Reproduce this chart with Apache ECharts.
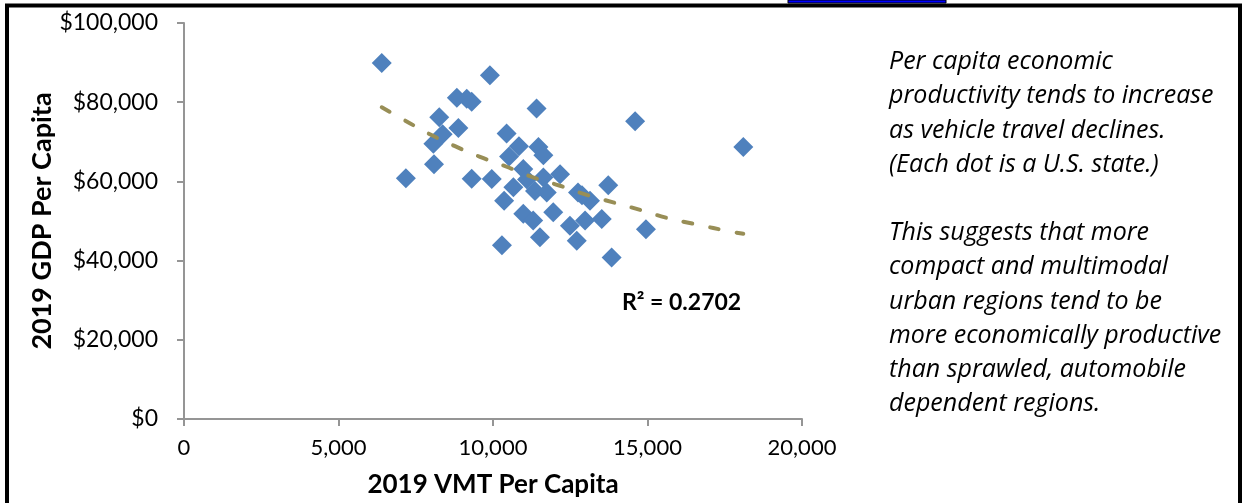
<!DOCTYPE html>
<html>
<head>
<meta charset="utf-8">
<script src="https://cdn.jsdelivr.net/npm/echarts@6/dist/echarts.min.js"></script>
<style>
  html, body { margin: 0; padding: 0; background: #fff; }
  #chart { width: 1243px; height: 503px; }
</style>
</head>
<body>
<div id="chart"></div>
<script>
// 2019 VMT per capita vs 2019 GDP per capita, one dot per state
const vmt = [
  6400, 9900, 8830, 9150, 9310, 11410, 14600, 8260, 8880, 8370,
  8070, 8090, 7180, 9310, 9960, 10440, 10840, 11470, 10520, 11630,
  10980, 11630, 12170, 10660, 11360, 11740, 10360, 12750, 13140, 13730,
  11950, 10980, 11300, 12490, 12980, 13520, 11520, 12710, 10290, 13840,
  14950, 18100, 12880, 11100
];
const gdp = [
  89900, 86800, 81100, 80900, 80100, 78400, 75200, 76200, 73500, 71900,
  69500, 64300, 60800, 60700, 60600, 72100, 68900, 68700, 66300, 66600,
  63100, 61000, 61800, 58500, 57600, 57200, 55100, 57200, 55100, 59000,
  52200, 51800, 50100, 48800, 50100, 50500, 45900, 45000, 43900, 40800,
  47900, 68700, 56500, 60500
];

// trendline
const trendVmt = [6400, 7150, 7960, 8770, 9580, 10440, 11300, 12170, 13030, 13890, 14760, 15620, 16480, 17780, 18100];
const trendGdp = [78700, 75400, 71900, 68900, 66200, 63700, 61000, 58900, 56600, 54700, 52800, 50800, 49300, 47200, 46800];

const rSquared = "R² = 0.2702";
const note = [
  "Per capita economic",
  "productivity tends to increase",
  "as vehicle travel declines.",
  "(Each dot is a U.S. state.)",
  "",
  "This suggests that more",
  "compact and multimodal",
  "urban regions tend to be",
  "more economically productive",
  "than sprawled, automobile",
  "dependent regions."
];

const font = "Lato, 'Open Sans', sans-serif";
const axisGray = "#959595";

const chart = echarts.init(document.getElementById("chart"));

chart.setOption({
  backgroundColor: "#fff",
  animation: false,
  grid: { left: 184, right: 441, top: 23, bottom: 82 },
  xAxis: {
    type: "value",
    min: 0, max: 20000, interval: 5000,
    name: "2019 VMT Per Capita",
    nameLocation: "middle",
    nameGap: 53,
    nameTextStyle: { fontFamily: font, fontSize: 26, fontWeight: "bold", color: "#000" },
    axisLine: { show: true, onZero: false, lineStyle: { color: axisGray, width: 2 } },
    axisTick: { show: true, length: 7, lineStyle: { color: axisGray, width: 2 } },
    axisLabel: {
      margin: 18, fontFamily: font, fontSize: 22, color: "#000",
      formatter: (v) => v.toLocaleString("en-US")
    },
    splitLine: { show: false }
  },
  yAxis: {
    type: "value",
    min: 0, max: 100000, interval: 20000,
    name: "2019 GDP Per Capita",
    nameLocation: "middle",
    nameGap: 126,
    nameTextStyle: { fontFamily: font, fontSize: 27, fontWeight: "bold", color: "#000" },
    axisLine: { show: true, onZero: false, lineStyle: { color: axisGray, width: 2 } },
    axisTick: { show: true, length: 7, lineStyle: { color: axisGray, width: 2 } },
    axisLabel: {
      margin: 26, fontFamily: font, fontSize: 23, color: "#000",
      formatter: (v) => "$" + v.toLocaleString("en-US")
    },
    splitLine: { show: false }
  },
  series: [
    {
      name: "States",
      type: "scatter",
      symbol: "diamond",
      symbolSize: 20,
      itemStyle: { color: "#4F81BD", opacity: 1 },
      data: vmt.map((x, i) => [x, gdp[i]]),
      z: 2
    },
    {
      name: "Trend",
      type: "line",
      smooth: true,
      showSymbol: false,
      lineStyle: { color: "#988E56", width: 4, type: [9, 18], cap: "round" },
      data: trendVmt.map((x, i) => [x, trendGdp[i]]),
      z: 3
    }
  ],
  graphic: [
    {
      type: "rect",
      shape: { x: 7, y: 5.5, width: 1233, height: 600 },
      style: { fill: "none", stroke: "#000", lineWidth: 4 },
      silent: true
    },
    {
      type: "rect",
      shape: { x: 788, y: 0, width: 158, height: 3 },
      style: { fill: "#0000ff", stroke: "#000", lineWidth: 1 },
      silent: true
    },
    {
      type: "text",
      left: 622, top: 291,
      style: { text: rSquared, font: "bold 23px " + font, fill: "#000" }
    },
    {
      type: "text",
      left: 889, top: 45,
      style: { text: note.join("\n"), font: "italic 25px 'Open Sans', sans-serif", lineHeight: 34.2, fill: "#000" }
    }
  ]
});
</script>
</body>
</html>
